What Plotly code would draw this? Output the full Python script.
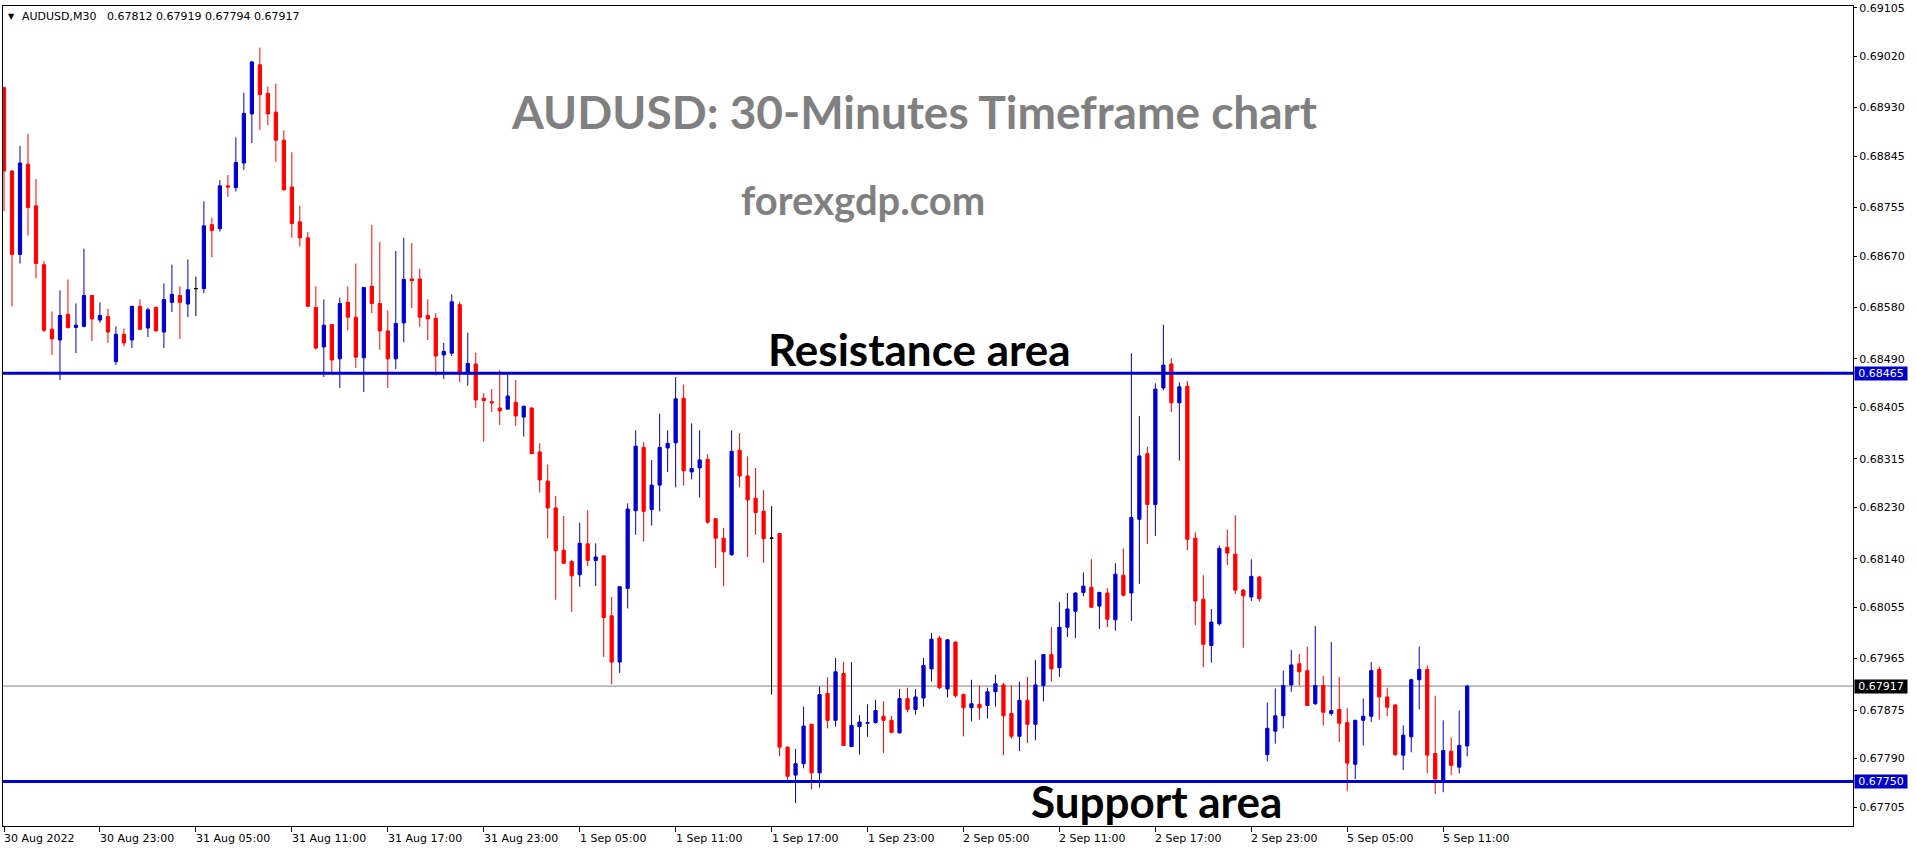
import plotly.graph_objects as go

# ---------------- data ----------------
open_ = [0.68965,0.68819,0.68673,0.68831,0.68758,0.68655,0.68542,0.68523,0.68568,0.68545,
         0.68547,0.68601,0.68558,0.68564,0.68485,0.68533,0.68523,0.68582,0.68544,0.68580,
         0.68537,0.68589,0.68601,0.68586,0.68613,0.68613,0.68725,0.68718,0.68793,0.68790,
         0.68833,0.68919,0.69005,0.68955,0.68922,0.68873,0.68791,0.68730,0.68702,0.68580,
         0.68511,0.68550,0.68490,0.68589,0.68563,0.68492,0.68617,0.68587,0.68539,0.68490,
         0.68553,0.68630,0.68630,0.68566,0.68561,0.68497,0.68500,0.68585,0.68464,0.68481,
         0.68421,0.68415,0.68404,0.68402,0.68414,0.68388,0.68404,0.68327,0.68276,0.68229,
         0.68155,0.68135,0.68112,0.68166,0.68137,0.68145,0.68040,0.67959,0.68088,0.68224,
         0.68335,0.68226,0.68269,0.68334,0.68343,0.68421,0.68292,0.68299,0.68314,0.68210,
         0.68176,0.68147,0.68330,0.68285,0.68246,0.68223,0.68176,0.68184,0.67810,0.67761,
         0.67781,0.67850,0.67765,0.67904,0.67857,0.67939,0.67811,0.67846,0.67852,0.67853,
         0.67864,0.67857,0.67835,0.67895,0.67876,0.67896,0.67947,0.68001,0.67912,0.67994,
         0.67902,0.67879,0.67885,0.67883,0.67907,0.67919,0.67869,0.67829,0.67892,0.67850,
         0.67918,0.67972,0.67949,0.68020,0.68048,0.68081,0.68090,0.68057,0.68080,0.68033,
         0.68111,0.68080,0.68209,0.68324,0.68235,0.68439,0.68481,0.68413,0.68442,0.68176,
         0.68069,0.67988,0.68026,0.68160,0.68148,0.68085,0.68073,0.68108,0.67797,0.67838,
         0.67865,0.67919,0.67956,0.67944,0.67886,0.67918,0.67869,0.67876,0.67853,0.67780,
         0.67857,0.67864,0.67946,0.67898,0.67884,0.67796,0.67828,0.67928,0.67946,0.67799,
         0.67752,0.67803,0.67775,0.67812]
high = [0.68967,0.68821,0.68863,0.68884,0.68805,0.68661,0.68573,0.68610,0.68629,0.68587,
        0.68683,0.68602,0.68589,0.68578,0.68547,0.68543,0.68583,0.68594,0.68580,0.68582,
        0.68622,0.68655,0.68617,0.68664,0.68634,0.68766,0.68737,0.68803,0.68812,0.68878,
        0.68956,0.69012,0.69035,0.68967,0.68972,0.68890,0.68852,0.68758,0.68712,0.68617,
        0.68594,0.68551,0.68597,0.68617,0.68657,0.68616,0.68725,0.68695,0.68575,0.68679,
        0.68702,0.68693,0.68648,0.68594,0.68570,0.68518,0.68603,0.68590,0.68536,0.68501,
        0.68430,0.68437,0.68470,0.68462,0.68453,0.68408,0.68405,0.68342,0.68305,0.68250,
        0.68215,0.68138,0.68203,0.68225,0.68167,0.68146,0.68073,0.68092,0.68237,0.68365,
        0.68344,0.68313,0.68394,0.68365,0.68458,0.68445,0.68377,0.68365,0.68323,0.68211,
        0.68194,0.68365,0.68360,0.68319,0.68299,0.68260,0.68232,0.68185,0.67811,0.67807,
        0.67881,0.67851,0.67916,0.67932,0.67966,0.67959,0.67959,0.67866,0.67885,0.67893,
        0.67890,0.67865,0.67912,0.67914,0.67912,0.67966,0.68010,0.68005,0.67999,0.67995,
        0.67904,0.67928,0.67918,0.67914,0.67937,0.67923,0.67918,0.67925,0.67933,0.67963,
        0.67973,0.68020,0.68064,0.68080,0.68081,0.68116,0.68139,0.68082,0.68088,0.68132,
        0.68158,0.68500,0.68390,0.68336,0.68447,0.68550,0.68491,0.68449,0.68451,0.68186,
        0.68111,0.68052,0.68163,0.68191,0.68216,0.68087,0.68139,0.68110,0.67888,0.67913,
        0.67944,0.67980,0.67973,0.67986,0.68022,0.67935,0.67994,0.67933,0.67878,0.67858,
        0.67895,0.67959,0.67951,0.67914,0.67885,0.67848,0.67930,0.67986,0.67953,0.67900,
        0.67857,0.67827,0.67874,0.67919]
low = [0.68749,0.68582,0.68657,0.68706,0.68631,0.68537,0.68497,0.68453,0.68543,0.68500,
       0.68545,0.68521,0.68553,0.68518,0.68479,0.68512,0.68509,0.68540,0.68528,0.68538,
       0.68509,0.68572,0.68525,0.68563,0.68565,0.68605,0.68668,0.68713,0.68774,0.68783,
       0.68821,0.68868,0.68891,0.68899,0.68835,0.68785,0.68702,0.68687,0.68581,0.68506,
       0.68458,0.68463,0.68439,0.68540,0.68474,0.68432,0.68570,0.68506,0.68439,0.68472,
       0.68519,0.68579,0.68546,0.68523,0.68461,0.68455,0.68495,0.68449,0.68443,0.68404,
       0.68345,0.68397,0.68374,0.68401,0.68373,0.68354,0.68323,0.68256,0.68176,0.68068,
       0.68131,0.68047,0.68091,0.68127,0.68092,0.67968,0.67920,0.67940,0.68053,0.68182,
       0.68170,0.68198,0.68223,0.68292,0.68265,0.68268,0.68279,0.68247,0.68201,0.68124,
       0.68092,0.68145,0.68265,0.68143,0.68182,0.68133,0.67902,0.67794,0.67753,0.67712,
       0.67773,0.67736,0.67739,0.67843,0.67846,0.67812,0.67810,0.67797,0.67828,0.67851,
       0.67800,0.67834,0.67834,0.67871,0.67867,0.67881,0.67925,0.67912,0.67897,0.67897,
       0.67829,0.67855,0.67858,0.67860,0.67881,0.67796,0.67825,0.67803,0.67817,0.67822,
       0.67890,0.67925,0.67933,0.68003,0.68001,0.68074,0.68054,0.68017,0.68020,0.68014,
       0.68074,0.68031,0.68096,0.68166,0.68180,0.68435,0.68397,0.68312,0.68155,0.68024,
       0.67950,0.67958,0.68023,0.68129,0.68078,0.67984,0.68066,0.68065,0.67785,0.67816,
       0.67843,0.67907,0.67918,0.67882,0.67884,0.67848,0.67865,0.67819,0.67733,0.67754,
       0.67813,0.67854,0.67858,0.67864,0.67794,0.67770,0.67801,0.67876,0.67764,0.67728,
       0.67731,0.67761,0.67764,0.67794]
close = [0.68819,0.68673,0.68833,0.68755,0.68657,0.68540,0.68525,0.68566,0.68545,0.68549,
         0.68601,0.68560,0.68566,0.68537,0.68533,0.68518,0.68582,0.68542,0.68576,0.68539,
         0.68594,0.68603,0.68589,0.68611,0.68613,0.68723,0.68715,0.68793,0.68791,0.68834,
         0.68920,0.69010,0.68953,0.68919,0.68873,0.68786,0.68727,0.68702,0.68582,0.68509,
         0.68549,0.68488,0.68587,0.68563,0.68493,0.68615,0.68587,0.68539,0.68490,0.68552,
         0.68629,0.68627,0.68563,0.68560,0.68495,0.68503,0.68590,0.68467,0.68482,0.68418,
         0.68417,0.68413,0.68399,0.68425,0.68390,0.68407,0.68324,0.68278,0.68229,0.68154,
         0.68132,0.68110,0.68167,0.68137,0.68143,0.68037,0.67959,0.68091,0.68227,0.68337,
         0.68223,0.68269,0.68335,0.68342,0.68420,0.68294,0.68298,0.68313,0.68204,0.68176,
         0.68152,0.68328,0.68285,0.68243,0.68221,0.68175,0.68176,0.67810,0.67759,0.67781,
         0.67847,0.67765,0.67902,0.67857,0.67942,0.67813,0.67848,0.67854,0.67853,0.67874,
         0.67857,0.67836,0.67895,0.67876,0.67898,0.67953,0.67999,0.67914,0.67998,0.67900,
         0.67879,0.67886,0.67879,0.67907,0.67921,0.67865,0.67829,0.67892,0.67850,0.67919,
         0.67972,0.67947,0.68020,0.68052,0.68080,0.68092,0.68055,0.68081,0.68034,0.68113,
         0.68076,0.68212,0.68320,0.68235,0.68437,0.68479,0.68413,0.68441,0.68174,0.68066,
         0.67990,0.68029,0.68158,0.68150,0.68085,0.68075,0.68109,0.68070,0.67843,0.67865,
         0.67918,0.67954,0.67942,0.67883,0.67918,0.67871,0.67874,0.67852,0.67782,0.67857,
         0.67864,0.67944,0.67898,0.67880,0.67797,0.67831,0.67928,0.67946,0.67796,0.67754,
         0.67804,0.67778,0.67813,0.67917]

tick_bars = [0, 12, 24, 36, 48, 60, 72, 84, 96, 108, 120, 132, 144, 156, 168, 180]
tick_labels = ["30 Aug 2022", "30 Aug 23:00", "31 Aug 05:00", "31 Aug 11:00", "31 Aug 17:00",
               "31 Aug 23:00", "1 Sep 05:00", "1 Sep 11:00", "1 Sep 17:00", "1 Sep 23:00",
               "2 Sep 05:00", "2 Sep 11:00", "2 Sep 17:00", "2 Sep 23:00", "5 Sep 05:00",
               "5 Sep 11:00"]
price_ticks = [0.69105, 0.69020, 0.68930, 0.68845, 0.68755, 0.68670, 0.68580, 0.68490,
               0.68405, 0.68315, 0.68230, 0.68140, 0.68055, 0.67965, 0.67875, 0.67790, 0.67705]
resistance_level = 0.68465
support_level = 0.67750
symbol = "AUDUSD,M30"
title_text = "AUDUSD: 30-Minutes Timeframe chart"
site_text = "forexgdp.com"
resistance_text = "Resistance area"
support_text = "Support area"

# ---------------- styling ----------------
BLUE = "#0000CD"
RED = "#FF0000"
GRAY = "#808080"
AXIS_FONT = dict(family="DejaVu Sans", size=11, color="black")
BIG = "Lato"

idx = list(range(len(open_)))
normal = [i for i in idx if open_[i] != close[i]]
doji = [i for i in idx if open_[i] == close[i]]

def pick(arr, ids):
    return [arr[i] for i in ids]

fig = go.Figure()
fig.add_trace(go.Candlestick(
    x=normal, open=pick(open_, normal), high=pick(high, normal),
    low=pick(low, normal), close=pick(close, normal),
    increasing=dict(line=dict(color=BLUE, width=1), fillcolor=BLUE),
    decreasing=dict(line=dict(color=RED, width=1), fillcolor=RED),
    whiskerwidth=0, showlegend=False, hoverinfo="none"))
fig.add_trace(go.Candlestick(
    x=doji, open=pick(open_, doji), high=pick(high, doji),
    low=pick(low, doji), close=pick(close, doji),
    increasing=dict(line=dict(color="black", width=1), fillcolor="black"),
    decreasing=dict(line=dict(color="black", width=1), fillcolor="black"),
    whiskerwidth=0, showlegend=False, hoverinfo="none"))

last_close = close[-1]
shapes = [
    dict(type="line", xref="paper", x0=0, x1=1, yref="y", y0=last_close, y1=last_close,
         line=dict(color=GRAY, width=1), layer="below"),
    dict(type="line", xref="paper", x0=0, x1=1, yref="y", y0=resistance_level, y1=resistance_level,
         line=dict(color=BLUE, width=3)),
    dict(type="line", xref="paper", x0=0, x1=1, yref="y", y0=support_level, y1=support_level,
         line=dict(color=BLUE, width=3)),
]

annotations = []
# bottom time labels (left aligned at their tick, as in MT4)
for b, lab in zip(tick_bars, tick_labels):
    annotations.append(dict(x=b, xref="x", y=0, yref="paper", xanchor="left", yanchor="top",
                            yshift=-4, xshift=-2, text=lab, showarrow=False, font=AXIS_FONT))
# price tags on the right axis
for lvl, bg in [(resistance_level, BLUE), (last_close, "black"), (support_level, BLUE)]:
    annotations.append(dict(x=1, xref="paper", y=lvl, yref="y", xanchor="left", yanchor="middle",
                            xshift=1, text=f"{lvl:.5f}", showarrow=False, bgcolor=bg,
                            font=dict(family="DejaVu Sans", size=11, color="white"),
                            width=50, height=11, borderpad=1, align="center"))
# header
annotations.append(dict(x=0, xref="paper", y=1, yref="paper", xanchor="left", yanchor="top",
                        xshift=3, yshift=-4, text="\u25BC", showarrow=False,
                        font=dict(family="DejaVu Sans", size=8, color="black")))
header = (f"{symbol}\u00a0\u00a0\u00a0{open_[-1]:.5f}\u00a0{high[-1]:.5f}"
          f"\u00a0{low[-1]:.5f}\u00a0{close[-1]:.5f}")
annotations.append(dict(x=0, xref="paper", y=1, yref="paper", xanchor="left", yanchor="top",
                        xshift=17, yshift=-2, text=header, showarrow=False, font=AXIS_FONT))
# big texts
annotations.append(dict(x=0.4922, xref="paper", y=0.871, yref="paper", xanchor="center",
                        yanchor="middle", text=title_text, showarrow=False,
                        font=dict(family=BIG, size=46, color=GRAY, weight=700)))
annotations.append(dict(x=0.4646, xref="paper", y=0.763, yref="paper", xanchor="center",
                        yanchor="middle", text=site_text, showarrow=False,
                        font=dict(family=BIG, size=40, color=GRAY, weight=700)))
annotations.append(dict(x=0.4954, xref="paper", y=0.582, yref="paper", xanchor="center",
                        yanchor="middle", text=resistance_text, showarrow=False,
                        font=dict(family=BIG, size=44, color="black", weight=700)))
annotations.append(dict(x=0.6234, xref="paper", y=0.031, yref="paper", xanchor="center",
                        yanchor="middle", text=support_text, showarrow=False,
                        font=dict(family=BIG, size=44, color="black", weight=700)))

fig.update_layout(
    width=1916, height=850, autosize=False,
    margin=dict(l=2, r=63, t=2, b=24, pad=0),
    paper_bgcolor="white", plot_bgcolor="white",
    showlegend=False, hovermode=False, boxgap=0.42,
    shapes=shapes, annotations=annotations,
    xaxis=dict(range=[-0.125, 231.25], tickvals=tick_bars, showticklabels=False,
               ticks="outside", ticklen=5, tickcolor="black", showline=True, mirror=True,
               linecolor="black", linewidth=1, showgrid=False, zeroline=False,
               rangeslider=dict(visible=False), fixedrange=True),
    yaxis=dict(range=[0.676719, 0.691080], side="right", tickvals=price_ticks,
               ticktext=[f"{v:.5f}" for v in price_ticks], tickfont=AXIS_FONT,
               ticklabeloverflow="allow",
               ticks="outside", ticklen=3, tickcolor="black", showline=True, mirror=True,
               linecolor="black", linewidth=1, showgrid=False, zeroline=False,
               fixedrange=True),
)

fig.write_html("out.html", config={"displayModeBar": False},
               post_script="document.body.style.margin='0';document.body.style.overflow='hidden';")
